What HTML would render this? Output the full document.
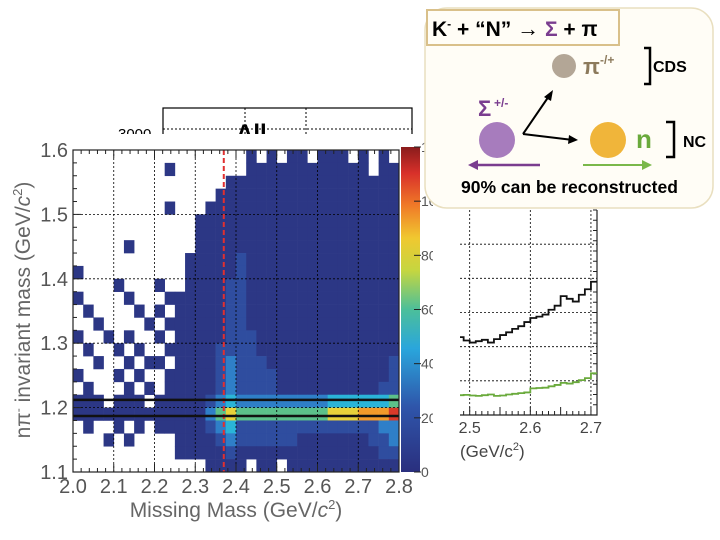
<!DOCTYPE html>
<html><head><meta charset="utf-8"><style>
body{margin:0;width:720px;height:540px;overflow:hidden;background:#fff;font-family:"Liberation Sans",sans-serif;position:relative}
svg{position:absolute;left:0;top:0}
</style></head><body>
<svg width="720" height="540">
 <g>
  <rect x="163" y="108" width="249" height="40" fill="#fff" stroke="#000" stroke-width="1.2"/>
  <line x1="245" y1="108" x2="245" y2="135" stroke="#000" stroke-dasharray="2,2"/>
  <line x1="306" y1="108" x2="306" y2="135" stroke="#000" stroke-dasharray="2,2"/>
  <line x1="163" y1="129" x2="412" y2="129" stroke="#000" stroke-dasharray="2,2"/>
  <text x="118" y="139" font-size="15" fill="#000">3000</text>
  <text x="236" y="141" font-size="24" font-weight="bold" fill="#000">All</text>
 </g>
 <rect x="0" y="134" width="440" height="406" fill="#fff"/>
 <g id="heat"></g>
 <g id="axes"></g>
 <g id="right"></g>
 <g>
  <rect x="425" y="8" width="288" height="200" rx="22" fill="#fffdf6" stroke="#e9dfbf" stroke-width="1.5"/>
  <rect x="427" y="10" width="192" height="35" fill="#fffdf6" stroke="#d9c08a" stroke-width="2"/>
  <text x="432" y="36" font-size="21" font-weight="bold" fill="#000">K<tspan font-size="12" dy="-8">-</tspan><tspan dy="8"> + “N” </tspan><tspan font-size="22">→</tspan><tspan> </tspan><tspan fill="#7a3d8f">Σ</tspan> + π</text>
  <circle cx="564" cy="66" r="12" fill="#b3a696"/>
  <text x="583" y="74" font-size="22" font-weight="bold" fill="#8c7a5c">π</text>
  <text x="600" y="64" font-size="12" font-weight="bold" fill="#8c7a5c">-/+</text>
  <path d="M644 48 H650 V84 H644" fill="none" stroke="#000" stroke-width="2.5"/>
  <text x="653" y="72" font-size="16" font-weight="bold" fill="#000">CDS</text>
  <text x="478" y="116" font-size="22" font-weight="bold" fill="#7a3d8f">Σ</text>
  <text x="494" y="107" font-size="12" font-weight="bold" fill="#7a3d8f">+/-</text>
  <circle cx="497" cy="140" r="18" fill="#a77cbd"/>
  <path d="M523 134 L549 96 M523 134 L573 140" stroke="#000" stroke-width="2" fill="none"/>
  <path d="M553 90 L544 97 L551 101Z M578 140 L569 135 L568 144Z" fill="#000"/>
  <circle cx="608" cy="140" r="18" fill="#f0b53a"/>
  <text x="636" y="148" font-size="26" font-weight="bold" fill="#6aaa3c">n</text>
  <path d="M666 122 H674 V157 H666" fill="none" stroke="#000" stroke-width="2.5"/>
  <text x="683" y="147" font-size="16" font-weight="bold" fill="#000">NC</text>
  <line x1="540" y1="165" x2="475" y2="165" stroke="#7a3d8f" stroke-width="2.5"/>
  <path d="M468 165 L478 160 L478 170Z" fill="#7a3d8f"/>
  <line x1="583" y1="165" x2="645" y2="165" stroke="#7ab84a" stroke-width="2"/>
  <path d="M652 165 L642 160 L642 170Z" fill="#7ab84a"/>
  <text x="461" y="193" font-size="17.5" font-weight="bold" fill="#000">90% can be reconstructed</text>
 </g>
</svg>
<script>
const NS="http://www.w3.org/2000/svg";
// heatmap data: rows from y=1.60 (top) down to 1.10, 32 x-bins 2.0..2.8; digit = level (0 empty)
const heatRows=[
"00000000000000000101011011101010",
"00000000010000000111111111111011",
"00000000000000011111111111111111",
"00000000000000111111111111111111",
"00000000010001111111111111111111",
"00000000000011111111111111111111",
"00000000000011111111111111111111",
"00000100000011111111111111111111",
"00000000000111112111111111111111",
"10000000000111112111111111111111",
"00001000100111122111111111111111",
"10000100011111122111111111111111",
"01000010101111122111111111111111",
"00100001011111122111111111111111",
"10010100101111122211111111111111",
"01001010011111222211111111111111",
"00100101101111232221111111111112",
"10001010011111232222111111111112",
"01000101011111232222111111111122",
"11101110111112343333333334444445",
"11111111111113565555555556667778",
"01001010111112342222222222222233",
"00010100001111232222221111111223",
"00000000001111121111111111111122",
"00000000000001111011011111111111"];
const levelColors=["none","#2c3785","#2f4d9f","#2f7fc8","#2ab4d8","#5cc08a","#e8d23a","#f39a2a","#d83a2a"];
const xTicks=[2.0,2.1,2.2,2.3,2.4,2.5,2.6,2.7,2.8];
const yTicks=[1.1,1.2,1.3,1.4,1.5,1.6];
const cbTicks=[0,20,40,60,80,100,120];
// right projection data
const projX=[2.485,2.495,2.505,2.515,2.525,2.535,2.545,2.555,2.565,2.575,2.585,2.595,2.605,2.615,2.625,2.635,2.645,2.655,2.665,2.675,2.685,2.695,2.705];
const projAll=[1140,1090,1060,1080,1100,1060,1110,1170,1210,1260,1300,1360,1420,1440,1470,1540,1600,1740,1700,1660,1760,1840,1950];
const projNC=[290,295,285,280,290,300,280,285,300,310,320,330,390,395,400,420,440,470,460,480,510,540,610];
const projXTicks=[2.5,2.6,2.7];
const projYGrid=[500,1000,1500,2000,2500];

const X0=73,X1=399,Y0=472,Y1=150;
const sx=v=>X0+(v-2.0)/0.8*(X1-X0);
const sy=v=>Y0-(v-1.1)/0.5*(Y0-Y1);
function mk(tag,attrs,parent){const e=document.createElementNS(NS,tag);for(const k in attrs)e.setAttribute(k,attrs[k]);parent.appendChild(e);return e;}
const heat=document.getElementById('heat'),axes=document.getElementById('axes'),right=document.getElementById('right');
const nx=heatRows[0].length,ny=heatRows.length;
heatRows.forEach((row,i)=>{
 for(let j=0;j<nx;j++){const L=+row[j];if(!L)continue;
  const xa=sx(2.0+j*0.8/nx),xb=sx(2.0+(j+1)*0.8/nx);
  const ya=sy(1.6-i*0.5/ny),yb=sy(1.6-(i+1)*0.5/ny);
  const r=mk('rect',{x:xa,y:ya,width:xb-xa+0.3,height:yb-ya+0.3,fill:levelColors[L]},heat);
  
  
 }});
// grid
xTicks.slice(1,-1).forEach(v=>{mk('line',{x1:sx(v),y1:Y1,x2:sx(v),y2:Y0,stroke:'#000','stroke-dasharray':'2,2','stroke-width':0.8},axes);});
yTicks.slice(1,-1).forEach(v=>{mk('line',{x1:X0,y1:sy(v),x2:X1,y2:sy(v),stroke:'#000','stroke-dasharray':'2,2','stroke-width':0.8},axes);});
mk('line',{x1:sx(2.37),y1:Y1,x2:sx(2.37),y2:Y0,stroke:'#e03030','stroke-dasharray':'5,3','stroke-width':2},axes);
[1.212,1.187].forEach(v=>mk('line',{x1:X0,y1:sy(v),x2:X1,y2:sy(v),stroke:'#111','stroke-width':2.5},axes));
mk('rect',{x:X0,y:Y1,width:X1-X0,height:Y0-Y1,fill:'none',stroke:'#222','stroke-width':1.2},axes);
for(let k=0;k<=40;k++){const x=sx(2+k*0.02);mk('line',{x1:x,y1:Y0,x2:x,y2:Y0-(k%5?4:8),stroke:'#222'},axes);mk('line',{x1:x,y1:Y1,x2:x,y2:Y1+(k%5?4:8),stroke:'#222'},axes);}
for(let k=0;k<=25;k++){const y=sy(1.1+k*0.02);mk('line',{x1:X0,y1:y,x2:X0+(k%5?4:8),y2:y,stroke:'#222'},axes);}
xTicks.forEach(v=>{const t=mk('text',{x:sx(v),y:493,'font-size':20,fill:'#555','text-anchor':'middle'},axes);t.textContent=v.toFixed(1);});
yTicks.forEach(v=>{const t=mk('text',{x:68,y:sy(v)+7,'font-size':20,fill:'#555','text-anchor':'end'},axes);t.textContent=v.toFixed(1);});
let t=mk('text',{x:236,y:517,'font-size':21,fill:'#666','text-anchor':'middle'},axes);t.innerHTML='Missing Mass (GeV/<tspan font-style="italic">c</tspan><tspan font-size="13" dy="-8">2</tspan><tspan dy="8">)</tspan>';

t=mk('text',{x:0,y:0,'font-size':21,fill:'#666','text-anchor':'middle',transform:'translate(30,310) rotate(-90)'},axes);t.innerHTML='nπ<tspan font-size="12" dy="-8">-</tspan><tspan dy="8"> invariant mass (GeV/</tspan><tspan font-style="italic">c</tspan><tspan font-size="13" dy="-8">2</tspan><tspan dy="8">)</tspan>';

// colorbar
const defs=mk('defs',{},axes);const g=mk('linearGradient',{id:'cb',x1:0,y1:1,x2:0,y2:0},defs);
[["0","#2a2f7e"],["0.2","#2f55aa"],["0.38","#2aa6dc"],["0.5","#4cbf9a"],["0.62","#c5d640"],["0.72","#f0c830"],["0.82","#f07a28"],["0.92","#d8302a"],["1","#8a1c1c"]].forEach(s=>mk('stop',{offset:s[0],'stop-color':s[1]},g));
mk('rect',{x:401,y:Y1-3,width:19,height:Y0-Y1+3,fill:'url(#cb)'},axes);
const clip=mk('clipPath',{id:'cbc'},defs);mk('rect',{x:400,y:130,width:33,height:360},clip);
const cbg=mk('g',{'clip-path':'url(#cbc)'},axes);
cbTicks.forEach(v=>{const y=Y0-v/120*(Y0-Y1+3);mk('line',{x1:414,y1:y,x2:421,y2:y,stroke:'#222'},cbg);const tt=mk('text',{x:421,y:y+5,'font-size':14,fill:'#555'},cbg);tt.textContent=v;});
// right projection plot
const RX0=460,RX1=597,RY0=415,RY1=210;
const rx=v=>RX0+(v-2.484)/(2.71-2.484)*(RX1-RX0);
const ry=v=>RY0-v/3000*(RY0-RY1);
projXTicks.forEach(v=>{mk('line',{x1:rx(v),y1:RY1,x2:rx(v),y2:RY0,stroke:'#000','stroke-dasharray':'2,2','stroke-width':0.8},right);const tt=mk('text',{x:rx(v),y:433,'font-size':16,fill:'#444','text-anchor':'middle'},right);tt.textContent=v.toFixed(1);});
projYGrid.forEach(v=>mk('line',{x1:RX0,y1:ry(v),x2:RX1,y2:ry(v),stroke:'#000','stroke-dasharray':'2,2','stroke-width':0.8},right));
mk('path',{d:`M${RX0} ${RY0} H${RX1} V${RY1}`,fill:'none',stroke:'#222','stroke-width':1.2},right);
for(let k=0;k<=22;k++){const x=rx(2.49+k*0.01);mk('line',{x1:x,y1:RY0,x2:x,y2:RY0-(k%5==1?8:4),stroke:'#222'},right);}
for(let k=0;k<=20;k++){const y=ry(k*150);mk('line',{x1:RX1,y1:y,x2:RX1-4,y2:y,stroke:'#222'},right);}
function step(vals,col,name){let d='';projX.forEach((x,i)=>{const a=rx(Math.max(2.484,x-0.005)),b=rx(Math.min(2.71,x+0.005)),y=ry(vals[i]);d+=(i?'L':'M')+a+' '+y+'L'+b+' '+y;});const p=mk('path',{d:d,fill:'none',stroke:col,'stroke-width':1.8},right);}
step(projAll,'#111','series-all');step(projNC,'#6aaa3c','series-nc');
t=mk('text',{x:460,y:457,'font-size':17,fill:'#444'},right);t.innerHTML='(GeV/c<tspan font-size="11" dy="-7">2</tspan><tspan dy="7">)</tspan>';
</script>
</body></html>
